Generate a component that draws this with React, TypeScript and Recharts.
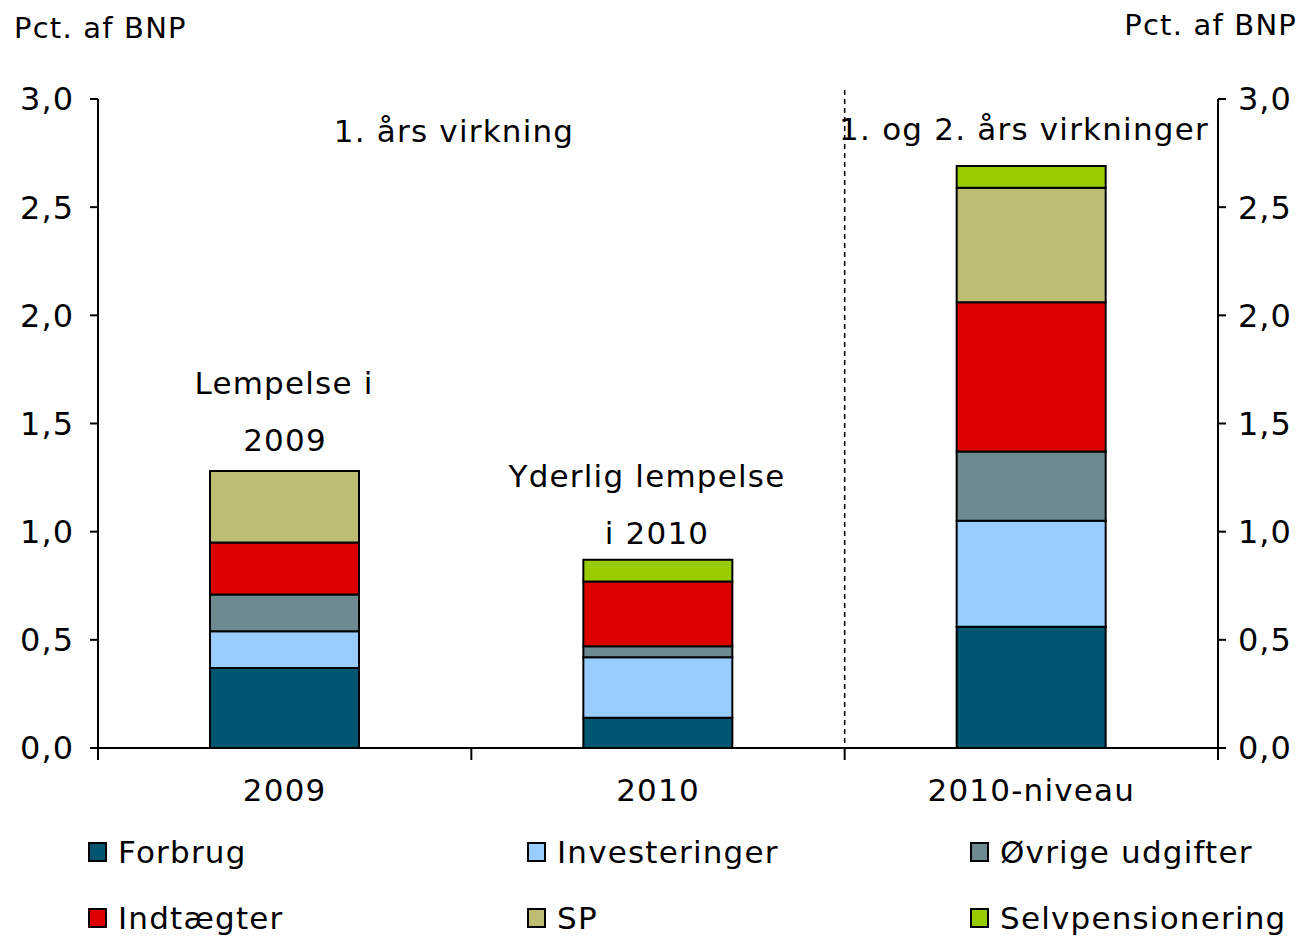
import React from "react"
import { ComposedChart, Bar, Line, XAxis, YAxis, Legend } from "recharts"

const categories = ["2009", "2010", "2010-niveau"]
const forbrug = [0.37, 0.14, 0.56]
const investeringer = [0.17, 0.28, 0.49]
const oevrige = [0.17, 0.05, 0.32]
const indtaegter = [0.24, 0.3, 0.69]
const sp = [0.33, 0, 0.53]
const selvpension = [0, 0.1, 0.1]
const yTicks = [0, 0.5, 1, 1.5, 2, 2.5, 3]

const seriesDefs = [
  { key: "forbrug", name: "Forbrug", color: "#005571", values: forbrug },
  { key: "investeringer", name: "Investeringer", color: "#99CCFF", values: investeringer },
  { key: "oevrige", name: "Øvrige udgifter", color: "#6D8A90", values: oevrige },
  { key: "indtaegter", name: "Indtægter", color: "#DC0000", values: indtaegter },
  { key: "sp", name: "SP", color: "#BEBE72", values: sp },
  { key: "selvpension", name: "Selvpensionering", color: "#99CC00", values: selvpension },
]

const data = categories.map((c, i) => {
  const row: any = { cat: c }
  seriesDefs.forEach((s) => (row[s.key] = s.values[i]))
  return row
})

const W = 1305
const H = 939
const PLOT_LEFT = 98
const PLOT_RIGHT = 1218
const PLOT_TOP = 99
const PLOT_BOTTOM = 748
const HALF_BAND = (PLOT_RIGHT - PLOT_LEFT) / categories.length / 2
const FONT = "'DejaVu Sans', Verdana, sans-serif"
const txt = { fontFamily: FONT, fontSize: 31, letterSpacing: 1.2, fill: "#000" }
const tickTxt = { fontFamily: FONT, fontSize: 32, letterSpacing: 1, fill: "#000" }

const fmt = (v: number) => v.toFixed(1).replace(".", ",")

const CatTick = (props: any) => {
  const { x, y, payload, index } = props
  return (
    <g>
      <line x1={x - HALF_BAND} x2={x - HALF_BAND} y1={y} y2={y + 12} stroke="#000" strokeWidth={2} />
      {index === categories.length - 1 && (
        <line x1={x + HALF_BAND} x2={x + HALF_BAND} y1={y} y2={y + 12} stroke="#000" strokeWidth={2} />
      )}
      <text x={x} y={y + 53} textAnchor="middle" {...txt}>
        {payload.value}
      </text>
    </g>
  )
}

const LegendBox = () => {
  const cols = [88, 527, 970]
  const rows = [33, 99]
  return (
    <div style={{ position: "relative", width: W, height: 120, fontFamily: FONT, fontSize: 31, letterSpacing: 1.2 }}>
      {seriesDefs.map((s, i) => (
        <div
          key={s.key}
          style={{
            position: "absolute",
            left: cols[i % 3],
            top: rows[Math.floor(i / 3)] - 19,
            height: 38,
            display: "flex",
            alignItems: "center",
            whiteSpace: "nowrap",
            color: "#000",
          }}
        >
          <span
            style={{
              display: "inline-block",
              width: 15,
              height: 16,
              background: s.color,
              border: "2px solid #000",
              marginRight: 11,
            }}
          />
          {s.name}
        </div>
      ))}
    </div>
  )
}

export default function App() {
  return (
    <div style={{ position: "absolute", left: 0, top: 0, width: W, height: H, background: "#fff" }}>
      <ComposedChart
        width={W}
        height={H}
        data={data}
        margin={{ top: PLOT_TOP, right: 0, bottom: 0, left: 0 }}
        barCategoryGap="30%"
      >
        <XAxis
          dataKey="cat"
          height={71}
          tickLine={false}
          tickSize={0}
          tickMargin={0}
          axisLine={{ stroke: "#000", strokeWidth: 2 }}
          tick={<CatTick />}
          interval={0}
        />
        <YAxis
          yAxisId="left"
          width={PLOT_LEFT}
          domain={[0, 3]}
          ticks={yTicks}
          tickFormatter={fmt}
          tickSize={8}
          tickMargin={16}
          axisLine={{ stroke: "#000", strokeWidth: 2 }}
          tickLine={{ stroke: "#000", strokeWidth: 2 }}
          tick={{ ...tickTxt }}
        />
        <YAxis
          yAxisId="right"
          orientation="right"
          width={W - PLOT_RIGHT}
          domain={[0, 3]}
          ticks={yTicks}
          tickFormatter={fmt}
          tickSize={8}
          tickMargin={12}
          axisLine={{ stroke: "#000", strokeWidth: 2 }}
          tickLine={{ stroke: "#000", strokeWidth: 2 }}
          tick={{ ...tickTxt, textAnchor: "start" }}
        />
        <Legend
          verticalAlign="bottom"
          content={<LegendBox />}
          wrapperStyle={{ left: 0, bottom: 0, width: W, height: 120 }}
        />
        {seriesDefs.map((s) => (
          <Bar
            key={s.key}
            yAxisId="left"
            dataKey={s.key}
            name={s.name}
            stackId="a"
            fill={s.color}
            stroke="#000"
            strokeWidth={2}
            isAnimationActive={false}
          />
        ))}
        {/* invisible series so the right axis gets its ticks */}
        <Line
          yAxisId="right"
          dataKey="forbrug"
          stroke="none"
          dot={false}
          activeDot={false}
          legendType="none"
          isAnimationActive={false}
        />
      </ComposedChart>
      <svg
        width={W}
        height={H}
        style={{ position: "absolute", left: 0, top: 0, pointerEvents: "none" }}
      >
        <line
          x1={PLOT_LEFT + 4 * HALF_BAND}
          x2={PLOT_LEFT + 4 * HALF_BAND}
          y1={90}
          y2={PLOT_BOTTOM}
          stroke="#000"
          strokeWidth={1.5}
          strokeDasharray="5 4"
        />
        <text x={14} y={38} {...txt} fontSize={29}>Pct. af BNP</text>
        <text x={1297} y={35} textAnchor="end" {...txt} fontSize={29}>Pct. af BNP</text>
        <text x={454} y={142} textAnchor="middle" {...txt}>1. års virkning</text>
        <text x={1024} y={140} textAnchor="middle" {...txt}>1. og 2. års virkninger</text>
        <text x={284} y={394} textAnchor="middle" {...txt}>Lempelse i</text>
        <text x={285} y={451} textAnchor="middle" {...txt}>2009</text>
        <text x={647} y={487} textAnchor="middle" {...txt}>Yderlig lempelse</text>
        <text x={657} y={544} textAnchor="middle" {...txt}>i 2010</text>
      </svg>
    </div>
  )
}
